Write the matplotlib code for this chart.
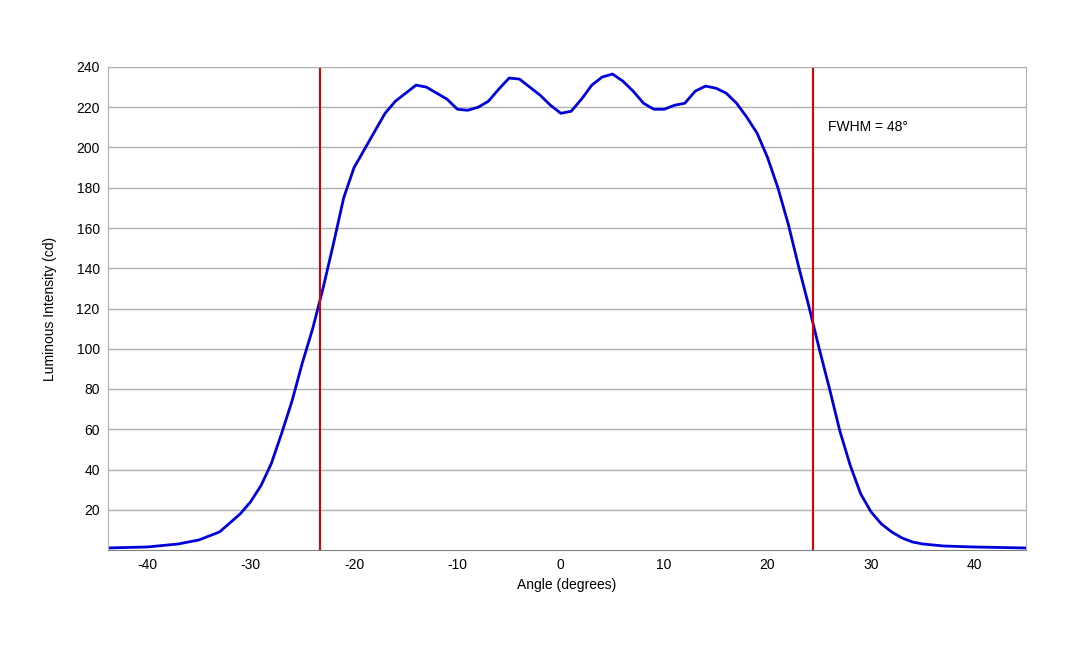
import matplotlib
matplotlib.use("Agg")
import matplotlib.pyplot as plt

plt.rcParams['font.family'] = ['Liberation Sans', 'DejaVu Sans']
plt.rcParams['axes.unicode_minus'] = False

angle = [-44, -40, -37, -35, -33, -31, -30, -29, -28, -27, -26, -25, -24, -23, -22, -21, -20, -19, -18, -17,
         -16, -15, -14, -13, -12, -11, -10, -9, -8, -7, -6, -5, -4, -3, -2, -1, 0, 1, 2, 3, 4, 5, 6, 7, 8, 9,
         10, 11, 12, 13, 14, 15, 16, 17, 18, 19, 20, 21, 22, 23, 24, 25, 26, 27, 28, 29, 30, 31, 32, 33, 34,
         35, 37, 40, 45]
intensity = [1, 1.5, 3, 5, 9, 18, 24, 32, 43, 58, 74, 93, 110, 130, 152, 175, 190, 199, 208, 217,
             223, 227, 231, 230, 227, 224, 219, 218.5, 220, 223, 229, 234.5, 234, 230, 226, 221, 217, 218, 224, 231, 235, 236.5, 233, 228, 222, 219,
             219, 221, 222, 228, 230.5, 229.5, 227, 222, 215, 207, 195, 180, 162, 141, 121, 100, 80, 59, 42, 28, 19, 13, 9, 6, 4,
             3, 2, 1.5, 1]
fwhm_edges = [-23.3, 24.4]
xticks = [-40, -30, -20, -10, 0, 10, 20, 30, 40]
yticks = [20, 40, 60, 80, 100, 120, 140, 160, 180, 200, 220, 240]

fig = plt.figure(figsize=(10.8, 6.48), dpi=100)
ax = fig.add_axes([108/1080, 1 - 550/648, (1026-108)/1080, (550-67)/648])
ax.plot(angle, intensity, color='#0000dd', lw=2)
for e in fwhm_edges:
    ax.axvline(e, color='#dd0000', lw=1.5)
ax.text(25.8, 208, 'FWHM = 48°', fontsize=10)
ax.set_xlim(-43.8, 45)
ax.set_ylim(0, 240)
ax.set_xticks(xticks)
ax.set_yticks(yticks)
ax.yaxis.grid(True, color='#b0b0b0', lw=1)
ax.set_axisbelow(True)
ax.tick_params(labelsize=10, length=0, pad=6)
for s in ['top', 'right', 'left']:
    ax.spines[s].set_color('#b0b0b0')
ax.spines['bottom'].set_color('#808080')
ax.set_xlabel('Angle (degrees)', fontsize=10)
ax.set_ylabel('Luminous Intensity (cd)', fontsize=10, labelpad=14)
fig.savefig('out.png', dpi=100)
